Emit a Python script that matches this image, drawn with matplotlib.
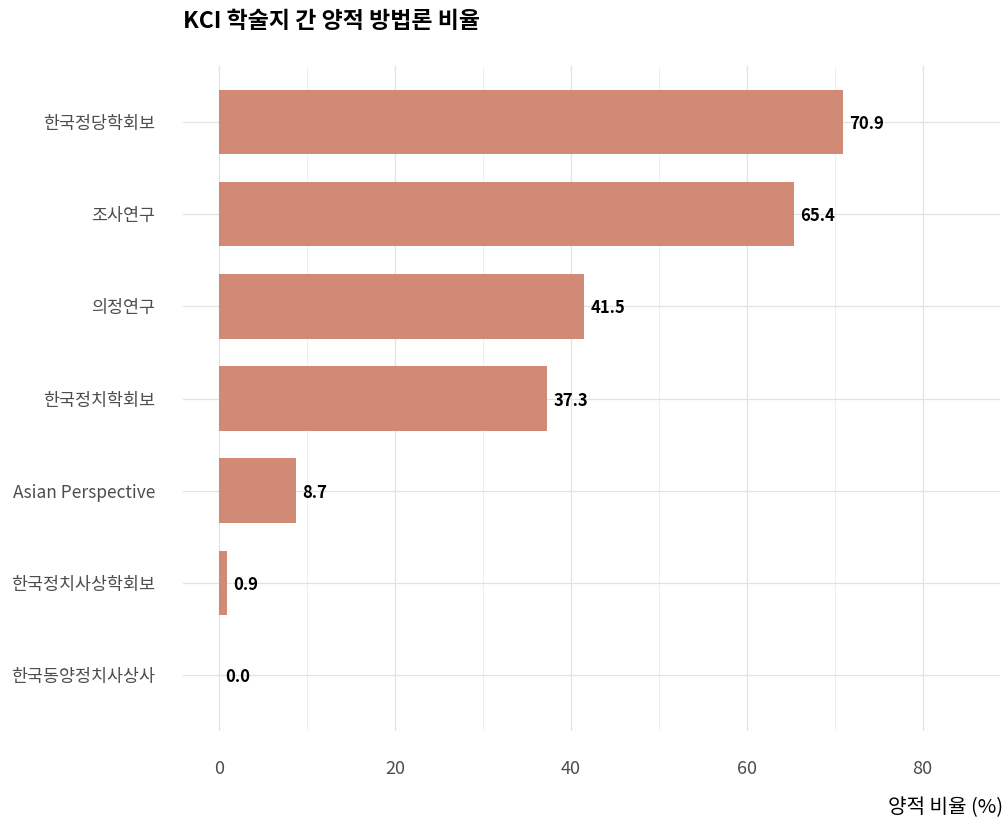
import matplotlib
matplotlib.use("Agg")
import matplotlib.pyplot as plt
from matplotlib.ticker import MultipleLocator

plt.rcParams['font.family'] = ['Noto Sans CJK KR', 'DejaVu Sans']

journals = ["한국정당학회보", "조사연구", "의정연구", "한국정치학회보",
            "Asian Perspective", "한국정치사상학회보", "한국동양정치사상사"]
ratios = [70.9, 65.4, 41.5, 37.3, 8.7, 0.9, 0.0]
xticks = [0, 20, 40, 60, 80]

fig = plt.figure(figsize=(10.08, 8.21), dpi=100)
W, H = 1008, 821
top, bot = 66.5, 730.5
ax = fig.add_axes([183 / W, 1 - bot / H, (1000 - 183) / W, (bot - top) / H])

n = len(journals)
ypos = list(range(n))
bar_color = "#D08A76"
ax.barh(ypos, ratios, height=0.7, color=bar_color, zorder=2)
for y, v in zip(ypos, ratios):
    ax.annotate(f"{v:.1f}", (v, y), xytext=(4.5, -1.5), textcoords="offset points",
                ha="left", va="center", fontsize=12, fontweight="bold",
                color="black", zorder=3)

ax.set_ylim(n - 1 + 0.6, -0.6)
ax.set_yticks(ypos)
ax.set_yticklabels(journals)
ax.set_xlim(-4.1, 88.8)
ax.set_xticks(xticks)
ax.xaxis.set_minor_locator(MultipleLocator(10))

ax.grid(axis="x", which="major", color="#e3e3e3", linewidth=0.9, zorder=0)
ax.grid(axis="x", which="minor", color="#ececec", linewidth=0.6, zorder=0)
ax.grid(axis="y", which="major", color="#e3e3e3", linewidth=0.9, zorder=0)
for s in ax.spines.values():
    s.set_visible(False)
ax.tick_params(axis="both", which="both", length=0, labelsize=12.5, labelcolor="#4d4d4d")
ax.tick_params(axis="x", labelsize=13)
ax.tick_params(axis="y", pad=20)
ax.tick_params(axis="x", pad=21)

fig.text(183 / W, 1 - 22 / H, "KCI 학술지 간 양적 방법론 비율", ha="left", va="center",
         fontsize=16.5, fontweight="bold", color="black")
fig.text(1003 / W, 1 - 808 / H, "양적 비율 (%)", ha="right", va="center",
         fontsize=14.5, color="black")

fig.savefig("out.png", dpi=100)
